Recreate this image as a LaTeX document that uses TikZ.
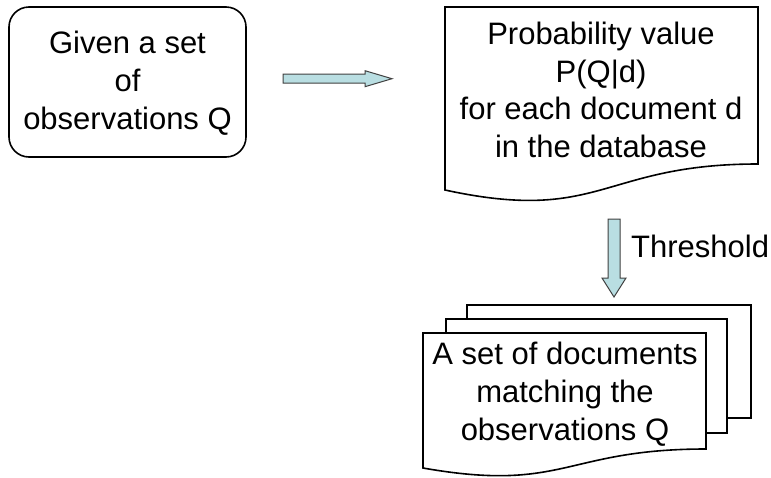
\documentclass[tikz,border=0pt]{standalone}
\usepackage{fontspec}
\setmainfont{Liberation Sans}
\usetikzlibrary{calc}
\definecolor{arrowfill}{RGB}{185,222,226}
\definecolor{arrowline}{RGB}{64,64,64}
\tikzset{
  boxline/.style={draw=black, line width=1.6pt, fill=white},
  blockarrow/.style={draw=arrowline, line width=1pt, fill=arrowfill, line join=miter},
  txt/.style={align=center, inner sep=0pt, font=\fontsize{31}{37.7}\selectfont},
}
\begin{document}
\begin{tikzpicture}[x=1pt,y=-1pt]
\useasboundingbox (0,0) rectangle (771,477);
% left rounded box
\draw[boxline, rounded corners=20pt] (9,7) rectangle (246,157);
\node[txt] (given) at (127.5,83) {Given a set\\of\\observations Q};
% top right document
\draw[boxline] (445,7) -- (758,7) -- (758,164)
  .. controls (601.5,164) and (601.5,224) .. (445,190) -- cycle;
\node[txt] (prob) at (601,90) {Probability value\\P(Q|d)\\for each document d\\in the database};
% bottom stacked documents
\draw[boxline] (467,305) rectangle (751,418);
\draw[boxline] (446,319) rectangle (727,433);
\draw[boxline] (423,333) -- (706,333) -- (706,449)
  .. controls (564.5,449) and (564.5,493) .. (423,468) -- cycle;
\node[txt] (docs) at (565,394) {A set of documents\\matching the\\observations Q};
% right block arrow
\coordinate (r0) at (283,78.7);
\coordinate (r1) at (392,78.7);
\draw[blockarrow] ($(r0)+(0,-4.5)$) -- ($(r1)+(-27,-4.5)$) -- ($(r1)+(-27,-8)$) -- (r1)
  -- ($(r1)+(-27,8)$) -- ($(r1)+(-27,4.5)$) -- ($(r0)+(0,4.5)$) -- cycle;
% down block arrow
\coordinate (d0) at (614,219);
\coordinate (d1) at (614,297);
\draw[blockarrow] ($(d0)+(-6,0)$) -- ($(d1)+(-6,-19)$) -- ($(d1)+(-12,-19)$) -- (d1)
  -- ($(d1)+(12,-19)$) -- ($(d1)+(6,-19)$) -- ($(d0)+(6,0)$) -- cycle;
\node[txt, anchor=west] (thr) at (631,246) {Threshold};
\end{tikzpicture}
\end{document}
